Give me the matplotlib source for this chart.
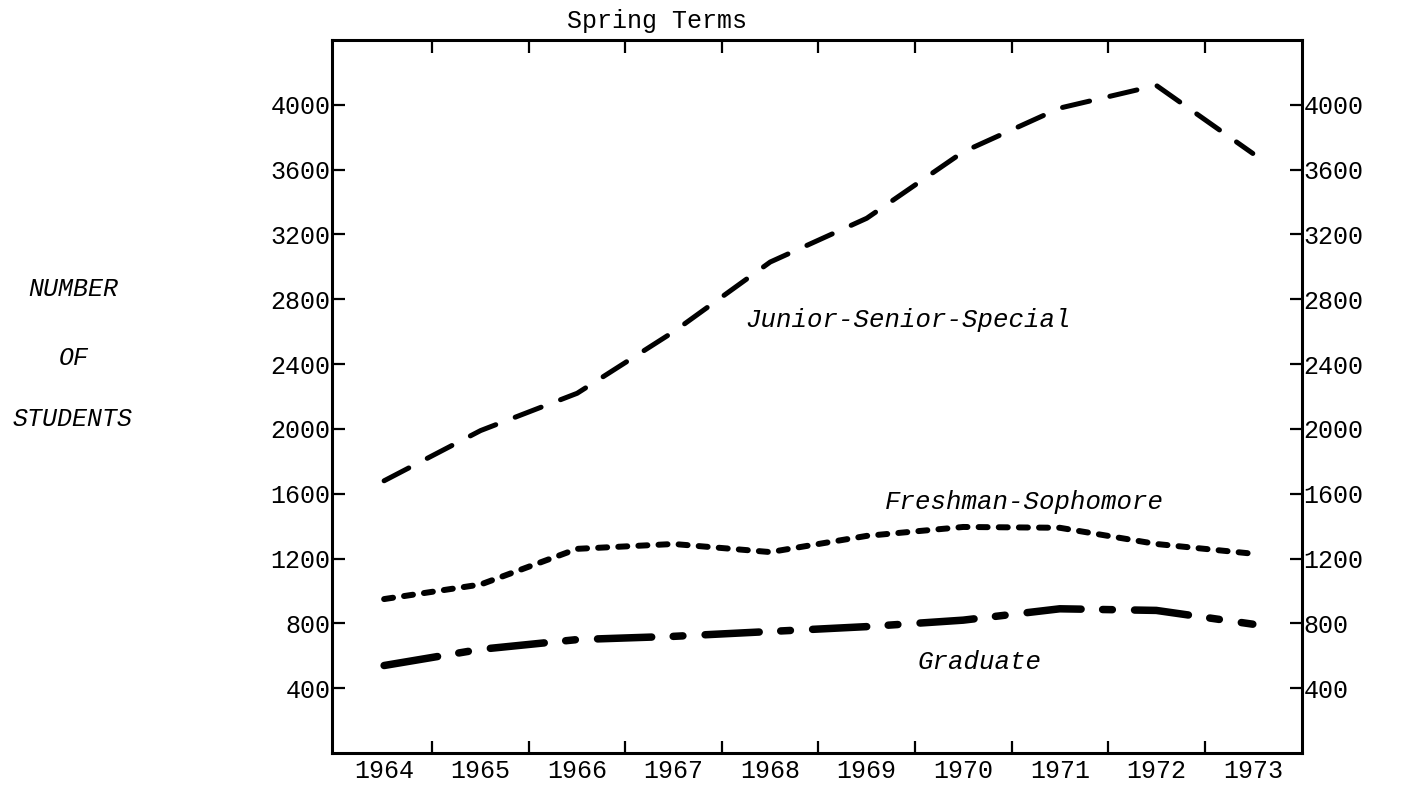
import numpy as np
import matplotlib
matplotlib.use("Agg")
import matplotlib.pyplot as plt

# --- Data (Spring terms, number of students) ---
years = [1964, 1965, 1966, 1967, 1968, 1969, 1970, 1971, 1972, 1973]
junior_senior_special = [1680, 1990, 2220, 2600, 3030, 3300, 3710, 3980, 4120, 3700]
freshman_sophomore = [950, 1040, 1260, 1290, 1240, 1340, 1395, 1390, 1290, 1230]
graduate = [540, 640, 700, 720, 750, 780, 820, 890, 880, 795]
y_ticks = [400, 800, 1200, 1600, 2000, 2400, 2800, 3200, 3600, 4000]

plt.rcParams['lines.scale_dashes'] = False
mono = 'Liberation Mono'

fig = plt.figure(figsize=(14.02, 7.88), dpi=100)
ax = fig.add_axes([0.2368, 0.0444, 0.6919, 0.9048])

line_kw = dict(color='black', dash_capstyle='round', solid_capstyle='round',
               dash_joinstyle='round')
ax.plot(years, junior_senior_special, lw=3.6, linestyle=(0, (20, 15)), **line_kw)
ax.plot(years, freshman_sophomore, lw=4.3, linestyle=(0, (6.5, 8)), **line_kw)
ax.plot(years, graduate, lw=5.4, linestyle=(0, (39, 15.5, 7, 16)), **line_kw)

ax.set_xlim(1963.46, 1973.51)
ax.set_ylim(0, 4400)

# year boundaries get tick marks, year centres get labels
ax.set_xticks([y + 0.5 for y in years[:-1]])
ax.set_xticklabels([])
ax.set_xticks(years, minor=True)
ax.set_xticklabels([str(y) for y in years], minor=True, family=mono, fontsize=18)
ax.tick_params(axis='x', which='minor', length=0, pad=4)
ax.tick_params(axis='x', which='major', direction='in', top=True, bottom=True,
               length=9, width=1.6)

ax.set_yticks(y_ticks)
ax.set_yticklabels([str(v) for v in y_ticks], family=mono, fontsize=18)
ax.tick_params(axis='y', direction='in', left=True, right=True, labelright=True,
               length=9, width=1.6, pad=1)

for s in ax.spines.values():
    s.set_linewidth(2.2)

# series labels
ital = dict(family=mono, style='italic', fontsize=18.5, va='center', ha='left')
ax.text(1967.74, 2673, 'Junior-Senior-Special', **ital)
ax.text(1969.19, 1549, 'Freshman-Sophomore', **ital)
ax.text(1969.53, 562, 'Graduate', **ital)

fig.text(0.4686, 0.9733, 'Spring Terms', family=mono, fontsize=18,
         ha='center', va='center')
fig.text(0.052, 0.6333, 'NUMBER', family=mono, style='italic', fontsize=18,
         ha='center', va='center')
fig.text(0.0525, 0.5457, 'OF', family=mono, style='italic', fontsize=18,
         ha='center', va='center')
fig.text(0.0514, 0.4683, 'STUDENTS', family=mono, style='italic', fontsize=18,
         ha='center', va='center')

fig.savefig('out.png', dpi=100)
